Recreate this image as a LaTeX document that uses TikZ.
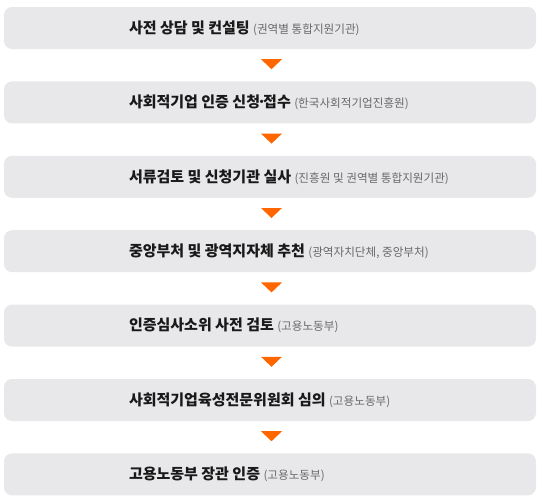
\documentclass[tikz,border=0pt]{standalone}
\usepackage{fontspec}
\usepackage{xcolor}
\usepackage{tikz}
\usetikzlibrary{positioning}
\newfontfamily\krfont{Noto Sans CJK KR}
\definecolor{boxGray}{RGB}{232,232,235}
\definecolor{arrowOrange}{RGB}{255,102,0}
\definecolor{noteGray}{RGB}{105,105,105}
\newcommand{\stepGap}{32pt}
\newcommand{\textIndent}{125pt}
\newcommand{\stepNote}[1]{{\mdseries\fontsize{11.6}{13}\selectfont\color{noteGray}#1}}
\newcommand{\tightDot}{\kern-0.2em·\kern-0.2em}

\tikzset{
	stepbox/.style={rectangle,rounded corners=8pt,fill=boxGray,minimum width=532pt,minimum height=42pt,inner sep=0pt},
	steptext/.style={anchor=west,inner sep=0pt,text=black!90,font=\krfont\bfseries\fontsize{15}{17}\selectfont},
	steparrow/.style={fill=arrowOrange}
}

\begin{document}
\begin{tikzpicture}
	\useasboundingbox (0,0) rectangle (540pt,-499pt);

	% process boxes
	\node[stepbox] (b1) at (270pt,-28pt) {};
	\node[stepbox,below=\stepGap of b1] (b2) {};
	\node[stepbox,below=\stepGap of b2] (b3) {};
	\node[stepbox,below=\stepGap of b3] (b4) {};
	\node[stepbox,below=\stepGap of b4] (b5) {};
	\node[stepbox,below=\stepGap of b5] (b6) {};
	\node[stepbox,below=\stepGap of b6] (b7) {};

	% labels
	\node[steptext] (t1) at ([xshift=\textIndent]b1.west) {사전 상담 및 컨설팅 \stepNote{(권역별 통합지원기관)}};
	\node[steptext] (t2) at ([xshift=\textIndent]b2.west) {사회적기업 인증 신청\tightDot 접수 \stepNote{(한국사회적기업진흥원)}};
	\node[steptext] (t3) at ([xshift=\textIndent]b3.west) {서류검토 및 신청기관 실사 \stepNote{(진흥원 및 권역별 통합지원기관)}};
	\node[steptext] (t4) at ([xshift=\textIndent]b4.west) {중앙부처 및 광역지자체 추천 \stepNote{(광역자치단체, 중앙부처)}};
	\node[steptext] (t5) at ([xshift=\textIndent]b5.west) {인증심사소위 사전 검토 \stepNote{(고용노동부)}};
	\node[steptext] (t6) at ([xshift=\textIndent]b6.west) {사회적기업육성전문위원회 심의 \stepNote{(고용노동부)}};
	\node[steptext] (t7) at ([xshift=\textIndent]b7.west) {고용노동부 장관 인증 \stepNote{(고용노동부)}};

	% arrows between boxes
	\foreach \i in {1,...,6}
		\fill[steparrow] ([xshift=-9pt,yshift=-10pt]b\i.south) -- ++(21pt,0) -- ++(-10.5pt,-10pt) -- cycle;
\end{tikzpicture}
\end{document}
